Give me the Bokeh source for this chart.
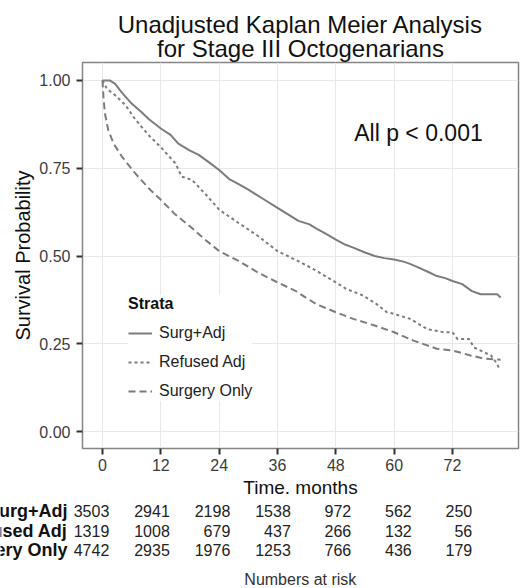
from bokeh.plotting import figure
from bokeh.layouts import column
from bokeh.models import (Range1d, FixedTicker, Title, Label, Legend, LegendItem,
                          ColumnDataSource, NumeralTickFormatter)
from bokeh.core.properties import value
from bokeh.embed import file_html
from bokeh.resources import INLINE

FONT = "Liberation Sans"

# Kaplan-Meier survival estimates (months, survival probability)
surg_adj_t = [0, 1.5, 2.6, 4, 6, 8, 9.5, 12, 14, 15.6, 18, 19.8, 22, 24, 26, 28, 30, 33, 36,
              38, 40.3, 42.6, 44, 46, 48, 50, 51.6, 54, 56, 58, 60, 61.9, 63, 64.7, 66.8,
              68.8, 70.5, 72, 74, 76, 77.8, 80, 81.2, 81.9]
surg_adj_s = [1.0, 1.0, 0.99, 0.965, 0.934, 0.91, 0.89, 0.863, 0.845, 0.82, 0.80, 0.788,
              0.766, 0.745, 0.72, 0.705, 0.689, 0.663, 0.637, 0.62, 0.60, 0.59, 0.578, 0.563,
              0.547, 0.532, 0.524, 0.51, 0.50, 0.494, 0.49, 0.484, 0.479, 0.469, 0.456,
              0.443, 0.437, 0.429, 0.42, 0.40, 0.391, 0.391, 0.391, 0.382]

refused_t = [0, 0.9, 2.6, 4.7, 6.7, 9.5, 12, 15, 16.3, 18.4, 21, 24, 28, 32, 36, 39.6, 42,
             44, 48, 50.2, 53.7, 56.4, 58.5, 60, 63.3, 66.8, 70.2, 72, 73, 75.4, 76.4, 78.5,
             79.9, 81.2, 81.6]
refused_s = [1.0, 0.976, 0.958, 0.93, 0.89, 0.844, 0.81, 0.764, 0.726, 0.717, 0.679, 0.632,
             0.594, 0.557, 0.514, 0.49, 0.473, 0.458, 0.425, 0.406, 0.387, 0.363, 0.34,
             0.335, 0.321, 0.292, 0.283, 0.283, 0.264, 0.264, 0.24, 0.226, 0.217, 0.193,
             0.179]

surgery_only_t = [0, 0.2, 0.5, 1.2, 2.3, 4, 6.7, 9.5, 12, 15, 18.4, 21, 24, 28, 32, 36,
                  39.8, 42, 44, 48, 51.6, 56, 60, 64, 68.8, 72, 75.7, 78.5, 80.5, 81.9]
surgery_only_s = [1.0, 0.953, 0.906, 0.858, 0.82, 0.783, 0.736, 0.693, 0.66, 0.618, 0.58,
                  0.548, 0.514, 0.486, 0.453, 0.425, 0.40, 0.38, 0.363, 0.34, 0.321, 0.302,
                  0.283, 0.259, 0.236, 0.231, 0.217, 0.208, 0.206, 0.205]

strata = ["Surg+Adj", "Refused Adj", "Surgery Only"]

# Numbers at risk
risk_times = [0, 12, 24, 36, 48, 60, 72]
risk_surg_adj = [3503, 2941, 2198, 1538, 972, 562, 250]
risk_refused = [1319, 1008, 679, 437, 266, 132, 56]
risk_surgery_only = [4742, 2935, 1976, 1253, 766, 436, 179]

x_ticks = [0, 12, 24, 36, 48, 60, 72]
y_ticks = [0, 0.25, 0.5, 0.75, 1.0]

LINE_COLOR = "#7c7c7c"
GRID_COLOR = "#e8e8e8"

p = figure(width=522, height=500, output_backend="svg", toolbar_location=None,
           title=None,
           x_range=Range1d(-4.11, 85.58), y_range=Range1d(-0.048, 1.051),
           min_border_left=82, min_border_right=4, min_border_top=62,
           min_border_bottom=51)
p.frame_align = False
p.background_fill_color = "white"
p.border_fill_color = "white"
p.outline_line_color = "#858585"
p.outline_line_width = 1.5

# Two-line title, the first added sits closest to the frame
p.add_layout(Title(text="for Stage III Octogenarians", align="center",
                   text_font=FONT, text_font_size="24px", text_font_style="normal",
                   text_color="#111111", standoff=2), "above")
p.add_layout(Title(text="Unadjusted Kaplan Meier Analysis", align="center",
                   text_font=FONT, text_font_size="24px", text_font_style="normal",
                   text_color="#111111", standoff=-13), "above")

r1 = p.line(surg_adj_t, surg_adj_s, line_color=LINE_COLOR, line_width=2)
r2 = p.line(refused_t, refused_s, line_color=LINE_COLOR, line_width=2, line_dash="3 3")
r3 = p.line(surgery_only_t, surgery_only_s, line_color=LINE_COLOR, line_width=2,
            line_dash="7 4")

for ax in (p.xaxis[0], p.yaxis[0]):
    ax.axis_line_color = None
    ax.major_tick_in = 0
    ax.major_tick_out = 6
    ax.major_tick_line_color = "#333333"
    ax.major_tick_line_width = 2
    ax.minor_tick_line_color = None
    ax.major_label_text_font = FONT
    ax.major_label_text_font_size = "16px"
    ax.major_label_text_color = "#3c3c3c"
    ax.axis_label_text_font = FONT
    ax.axis_label_text_font_style = "normal"
    ax.axis_label_text_color = "#111111"

p.xaxis.ticker = FixedTicker(ticks=x_ticks)
p.yaxis.ticker = FixedTicker(ticks=y_ticks)
p.yaxis.formatter = NumeralTickFormatter(format="0.00")
p.xaxis.axis_label = "Time. months"
p.yaxis.axis_label = "Survival Probability"
p.xaxis.axis_label_text_font_size = "19px"
p.yaxis.axis_label_text_font_size = "20px"
p.xaxis.major_label_standoff = 4
p.yaxis.major_label_standoff = 6
p.xaxis.axis_label_standoff = 3
p.yaxis.axis_label_standoff = 2

p.xgrid.grid_line_color = GRID_COLOR
p.ygrid.grid_line_color = GRID_COLOR
p.xgrid.ticker = FixedTicker(ticks=x_ticks)
p.ygrid.ticker = FixedTicker(ticks=y_ticks)

legend = Legend(items=[LegendItem(label=strata[0], renderers=[r1]),
                       LegendItem(label=strata[1], renderers=[r2]),
                       LegendItem(label=strata[2], renderers=[r3])],
                title="Strata", location=(46, 47))
legend.title_text_font = FONT
legend.title_text_font_style = "bold"
legend.title_text_font_size = "16px"
legend.title_text_color = "#111111"
legend.title_standoff = 10
legend.label_text_font = FONT
legend.label_text_font_size = "16px"
legend.label_text_color = "#222222"
legend.glyph_width = 24
legend.glyph_height = 20
legend.label_height = 20
legend.label_standoff = 7
legend.spacing = 9
legend.padding = 8
legend.margin = 0
legend.border_line_color = None
legend.background_fill_color = "white"
legend.background_fill_alpha = 1.0
p.add_layout(legend)

p.add_layout(Label(x=65, y=0.85, text="All p < 0.001", text_font=FONT,
                   text_font_size="23px", text_color="#111111", text_align="center",
                   text_baseline="middle"))

# Numbers-at-risk table: full-width strip whose x scale lines up with the plot above
p2 = figure(width=522, height=88, output_backend="svg", toolbar_location=None,
            x_range=Range1d(-20.98, 86.40), y_range=Range1d(3.95, -0.564),
            x_axis_type=None, y_axis_type=None, min_border=0,
            min_border_left=0, min_border_right=0, min_border_top=0,
            min_border_bottom=0)
p2.frame_align = False
p2.outline_line_color = None
p2.background_fill_color = "white"
p2.border_fill_color = "white"

rows = [risk_surg_adj, risk_refused, risk_surgery_only]
xs, ys, texts = [], [], []
for i, counts in enumerate(rows):
    for t, n in zip(risk_times, counts):
        xs.append(t * 1.037 + 1.4)
        ys.append(i)
        texts.append(str(n))
p2.text(x="x", y="y", text="text", source=ColumnDataSource(dict(x=xs, y=ys, text=texts)),
        text_align="right", text_baseline="middle", text_font=value(FONT),
        text_font_size="16px", text_color="#222222")

p2.text(x=[-7.2] * 3, y=[0, 1, 2], text=strata, text_align="right",
        text_baseline="middle", text_font=value(FONT), text_font_size="18px",
        text_font_style="bold", text_color="#111111")

p2.text(x=[40.7], y=[3.48], text=["Numbers at risk"], text_align="center",
        text_baseline="middle", text_font=value(FONT), text_font_size="16px",
        text_color="#333333")

layout = column(p, p2, spacing=0)

open("out.html", "w").write(file_html(layout, INLINE))
